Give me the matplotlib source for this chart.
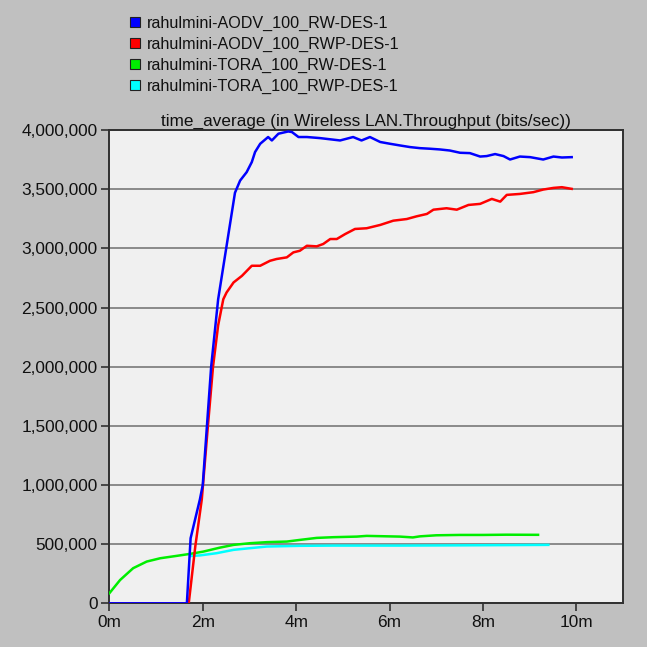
import matplotlib

matplotlib.use("Agg")
import matplotlib.pyplot as plt
from matplotlib.patches import Patch
from matplotlib.ticker import FuncFormatter, MultipleLocator

plt.rcParams["font.family"] = ["Liberation Sans", "DejaVu Sans"]

# time in minutes, throughput in bits/sec
aodv_rw_t = [0, 1.66, 1.74, 1.94, 2.0, 2.18, 2.33, 2.51, 2.69, 2.80, 2.94, 3.05, 3.12, 3.23,
             3.40, 3.48, 3.62, 3.83, 3.91, 4.05, 4.23, 4.51, 4.94, 5.22, 5.40, 5.58, 5.80,
             6.01, 6.22, 6.44, 6.65, 6.87, 7.08, 7.29, 7.51, 7.72, 7.94, 8.08, 8.26, 8.44,
             8.58, 8.79, 9.01, 9.29, 9.51, 9.69, 9.90]
aodv_rw_v = [0, 0, 550e3, 880e3, 1.0e6, 2.0e6, 2.57e6, 3.02e6, 3.47e6, 3.573e6, 3.644e6,
             3.729e6, 3.814e6, 3.884e6, 3.941e6, 3.912e6, 3.969e6, 3.988e6, 3.983e6, 3.941e6,
             3.941e6, 3.932e6, 3.912e6, 3.941e6, 3.912e6, 3.941e6, 3.899e6, 3.884e6, 3.870e6,
             3.856e6, 3.847e6, 3.842e6, 3.836e6, 3.827e6, 3.808e6, 3.805e6, 3.776e6, 3.780e6,
             3.797e6, 3.780e6, 3.751e6, 3.776e6, 3.771e6, 3.751e6, 3.776e6, 3.768e6, 3.771e6]

aodv_rwp_t = [0, 1.70, 1.84, 1.98, 2.10, 2.22, 2.33, 2.44, 2.51, 2.66, 2.84, 3.05, 3.23,
              3.44, 3.58, 3.80, 3.94, 4.08, 4.23, 4.44, 4.58, 4.73, 4.87, 5.05, 5.26, 5.51,
              5.80, 6.08, 6.37, 6.58, 6.80, 6.94, 7.22, 7.44, 7.69, 7.94, 8.19, 8.37, 8.51,
              8.79, 9.08, 9.29, 9.51, 9.69, 9.90]
aodv_rwp_v = [0, 0, 480e3, 880e3, 1.45e6, 2.0e6, 2.35e6, 2.57e6, 2.627e6, 2.712e6, 2.768e6,
              2.853e6, 2.853e6, 2.895e6, 2.910e6, 2.924e6, 2.966e6, 2.980e6, 3.022e6, 3.017e6,
              3.037e6, 3.079e6, 3.079e6, 3.121e6, 3.164e6, 3.170e6, 3.198e6, 3.234e6, 3.248e6,
              3.271e6, 3.291e6, 3.327e6, 3.339e6, 3.327e6, 3.367e6, 3.376e6, 3.418e6, 3.395e6,
              3.452e6, 3.460e6, 3.475e6, 3.497e6, 3.511e6, 3.517e6, 3.503e6]

tora_rw_t = [0, 0.23, 0.51, 0.80, 1.09, 1.44, 1.73, 2.01, 2.37, 2.66, 3.01, 3.37, 3.80, 4.08,
             4.44, 4.80, 5.30, 5.51, 6.22, 6.50, 6.65, 7.00, 7.50, 8.00, 8.50, 9.18]
tora_rw_v = [85e3, 197e3, 297e3, 353e3, 381e3, 401e3, 418e3, 437e3, 471e3, 494e3, 508e3,
             517e3, 522e3, 536e3, 553e3, 559e3, 564e3, 570e3, 564e3, 557e3, 566e3, 575e3,
             578e3, 578e3, 580e3, 579e3]

tora_rwp_t = [1.75, 1.94, 2.30, 2.66, 3.01, 3.37, 4.08, 4.80, 6.22, 7.50, 8.50, 9.40]
tora_rwp_v = [400e3, 405e3, 424e3, 452e3, 466e3, 480e3, 486e3, 488e3, 488e3, 490e3, 492e3, 494e3]

labels = ["rahulmini-AODV_100_RW-DES-1", "rahulmini-AODV_100_RWP-DES-1",
          "rahulmini-TORA_100_RW-DES-1", "rahulmini-TORA_100_RWP-DES-1"]
colors = ["#0000ff", "#ff0000", "#00ee00", "#00ffff"]

fig = plt.figure(figsize=(6.47, 6.47), dpi=100, facecolor="#c0c0c0")
ax = fig.add_axes([0.169, 0.0675, 0.794, 0.7315])
ax.set_facecolor("#f0f0f0")

ax.plot(tora_rwp_t, tora_rwp_v, color=colors[3], lw=1.8, zorder=3)
ax.plot(tora_rw_t, tora_rw_v, color=colors[2], lw=1.8, zorder=4)
ax.plot(aodv_rwp_t, aodv_rwp_v, color=colors[1], lw=1.8, zorder=5)
ax.plot(aodv_rw_t, aodv_rw_v, color=colors[0], lw=1.8, zorder=6)

ax.set_xlim(0, 11)
ax.set_ylim(0, 4e6)
ax.xaxis.set_major_locator(MultipleLocator(2))
ax.yaxis.set_major_locator(MultipleLocator(500e3))
ax.xaxis.set_major_formatter(FuncFormatter(lambda x, _: f"{x:.0f}m"))
ax.yaxis.set_major_formatter(FuncFormatter(lambda y, _: f"{y:,.0f}"))
ax.grid(axis="y", color="#8a8a8a", lw=1.4, zorder=1)
ax.tick_params(length=5.5, width=1.2, color="#303030", labelsize=12.4, pad=3,
               labelcolor="#101010")
for s in ax.spines.values():
    s.set_color("#303030")
    s.set_linewidth(1.4)

ax.set_title("time_average (in Wireless LAN.Throughput (bits/sec))", fontsize=12.3,
             pad=3, color="#101010")

handles = [Patch(facecolor=c, edgecolor="#202020", lw=0.8) for c in colors]
fig.legend(handles, labels, loc="upper left", bbox_to_anchor=(0.189, 0.988),
           frameon=False, fontsize=11.6, handlelength=0.6, handleheight=0.6,
           handletextpad=0.45, labelspacing=0.36, borderpad=0, labelcolor="#101010")

fig.savefig("out.png", dpi=100, facecolor=fig.get_facecolor())
